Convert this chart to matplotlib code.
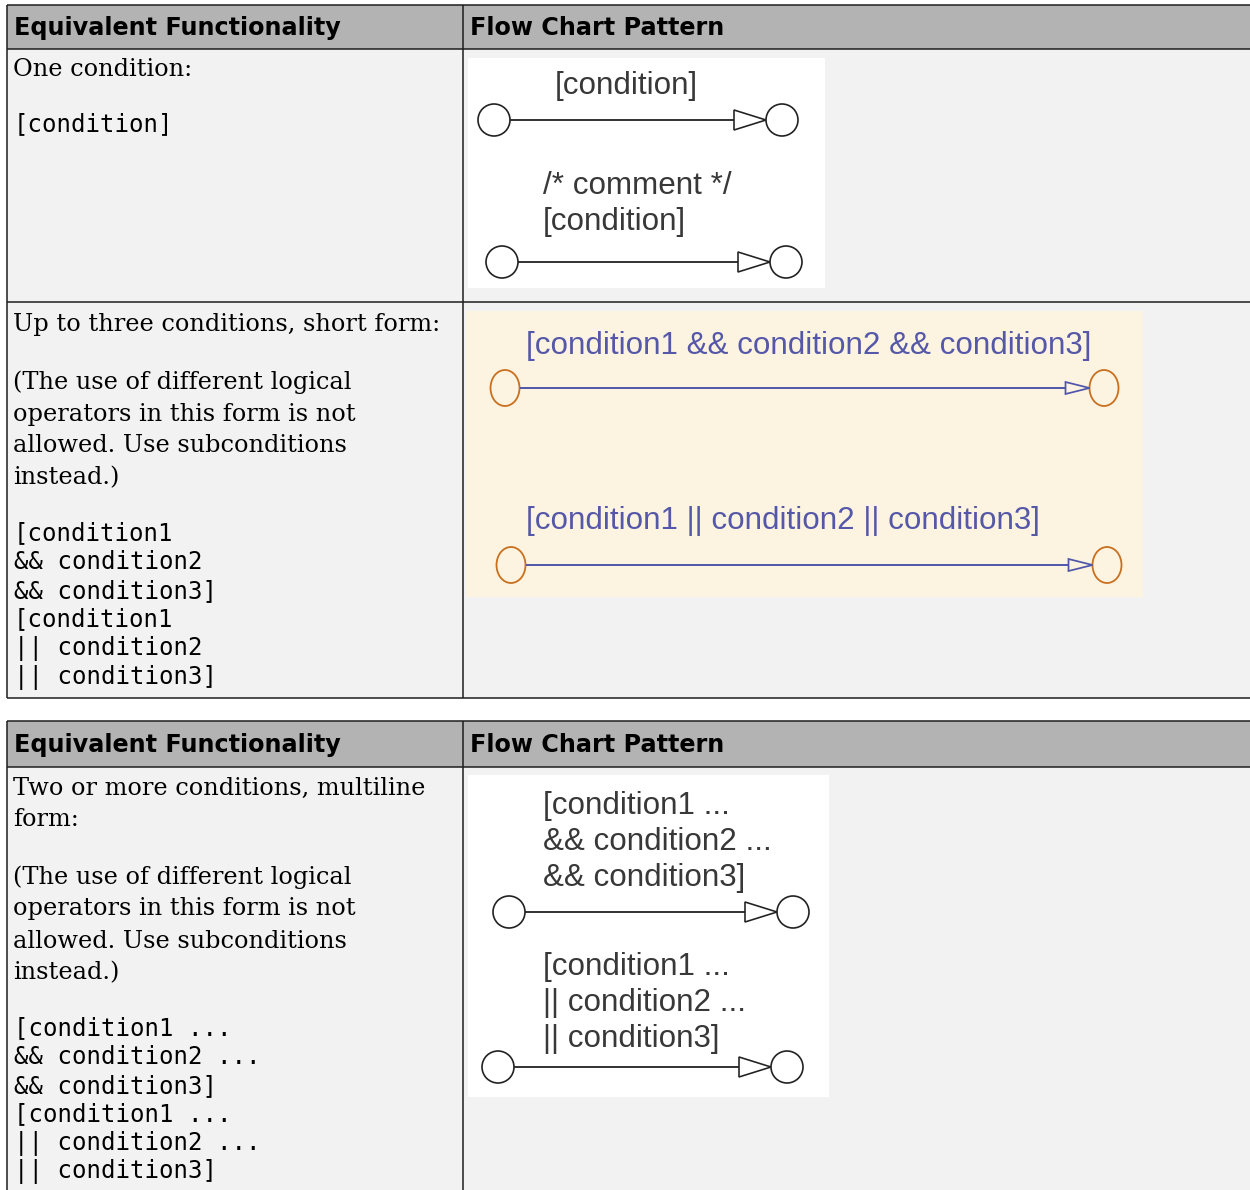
import matplotlib
matplotlib.use("Agg")
import matplotlib.pyplot as plt
from matplotlib.patches import Rectangle, Ellipse, Polygon

# ---------------- content ----------------
headers = ["Equivalent Functionality", "Flow Chart Pattern"]

row1_desc = ["One condition:"]
row1_code = ["[condition]"]

row2_desc = ["Up to three conditions, short form:"]
row2_note = ["(The use of different logical", "operators in this form is not",
             "allowed. Use subconditions", "instead.)"]
row2_code = ["[condition1", "&& condition2", "&& condition3]",
             "[condition1", "|| condition2", "|| condition3]"]

row3_desc = ["Two or more conditions, multiline", "form:"]
row3_note = row2_note
row3_code = ["[condition1 ...", "&& condition2 ...", "&& condition3]",
             "[condition1 ...", "|| condition2 ...", "|| condition3]"]

fc1_labels = [["[condition]"], ["/* comment */", "[condition]"]]
fc2_labels = ["[condition1 && condition2 && condition3]",
              "[condition1 || condition2 || condition3]"]
fc3_labels = [["[condition1 ...", "&& condition2 ...", "&& condition3]"],
              ["[condition1 ...", "|| condition2 ...", "|| condition3]"]]

# ---------------- styles ----------------
HEAD_BG = "#b3b3b3"
CELL_BG = "#f2f2f2"
BORDER = "#1e1e1e"
CREAM = "#fdf3e1"
ORANGE = "#c8701f"
BLUE = "#4f56aa"
BLUE_TXT = "#5558a8"
GRAY = "#383838"

W, H = 1250, 1190
fig = plt.figure(figsize=(W / 100, H / 100), dpi=100)
ax = fig.add_axes([0, 0, 1, 1])
ax.set_xlim(0, W)
ax.set_ylim(H, 0)
ax.axis("off")
fig.patch.set_facecolor("white")

LW = 1.1
BODY_FS = 17.3
FC_FS = 22.6
FC_FONT = "Liberation Sans"

def hline(x0, x1, y):
    ax.plot([x0, x1], [y, y], color=BORDER, lw=LW, solid_capstyle="butt")

def vline(x, y0, y1):
    ax.plot([x, x], [y0, y1], color=BORDER, lw=LW, solid_capstyle="butt")

def table(top, head_bot, bottom, draw_bottom):
    ax.add_patch(Rectangle((7, top), W - 7, head_bot - top, facecolor=HEAD_BG, edgecolor="none"))
    ax.add_patch(Rectangle((7, head_bot), W - 7, bottom - head_bot, facecolor=CELL_BG, edgecolor="none"))
    hline(7, W, top)
    hline(7, W, head_bot)
    if draw_bottom:
        hline(7, W, bottom)
    vline(7, top, bottom)
    vline(463, top, bottom)
    hy = (top + head_bot) / 2 + 1
    ax.text(14, hy, headers[0], fontsize=17.2, fontweight="bold", family="DejaVu Sans",
            va="center", ha="left", color="black")
    ax.text(470, hy, headers[1], fontsize=17.2, fontweight="bold", family="DejaVu Sans",
            va="center", ha="left", color="black")

def serif(x, y, s):
    ax.text(x, y, s, fontsize=BODY_FS, family="DejaVu Serif", va="center", ha="left", color="black")

def mono(x, y, s):
    ax.text(x, y, s, fontsize=BODY_FS, family="DejaVu Sans Mono", va="center", ha="left", color="black")

def fctext(x, y, s, color=GRAY, ha="left"):
    ax.text(x, y, s, fontsize=FC_FS, family=FC_FONT, color=color, ha=ha, va="center")

def transition(y, xl, xr, r, arrow_len, arrow_h, line_col, circ_col, circ_lw, bg, ry=None, line_lw=1.3):
    ry = r if ry is None else ry
    ax.add_patch(Ellipse((xl, y), 2 * r, 2 * ry, facecolor="none", edgecolor=circ_col, lw=circ_lw))
    ax.add_patch(Ellipse((xr, y), 2 * r, 2 * ry, facecolor="none", edgecolor=circ_col, lw=circ_lw))
    tip = xr - r
    base = tip - arrow_len
    ax.plot([xl + r, base], [y, y], color=line_col, lw=line_lw, solid_capstyle="butt")
    ax.add_patch(Polygon([[base, y - arrow_h], [base, y + arrow_h], [tip, y]], closed=True,
                         facecolor=bg, edgecolor=line_col, lw=line_lw * 0.9))

# ---------------- table 1 ----------------
table(5, 49, 698, True)
hline(7, W, 302)

serif(13, 70, row1_desc[0])
mono(14, 124, row1_code[0])

serif(13, 324, row2_desc[0])
for i, s in enumerate(row2_note):
    serif(13, 382 + 32 * i, s)
for i, s in enumerate(row2_code):
    mono(14, 533 + 28.8 * i, s)

# flow chart 1
ax.add_patch(Rectangle((468, 58), 357, 230, facecolor="white", edgecolor="none"))
fctext(626, 86, fc1_labels[0][0], ha="center")
transition(120, 494, 782, 16, 32, 10, "#222222", "#222222", 1.2, "white")
fctext(543, 186, fc1_labels[1][0])
fctext(543, 222, fc1_labels[1][1])
transition(262, 502, 786, 16, 32, 10, "#222222", "#222222", 1.2, "white")

# flow chart 2
ax.add_patch(Rectangle((466, 311), 677, 286, facecolor=CREAM, edgecolor="none"))
fctext(809, 346, fc2_labels[0], color=BLUE_TXT, ha="center")
transition(388, 505, 1104, 14.5, 24, 6, BLUE, ORANGE, 1.3, CREAM, ry=18, line_lw=1.4)
fctext(783, 521, fc2_labels[1], color=BLUE_TXT, ha="center")
transition(565, 511, 1107, 14.5, 24, 6, BLUE, ORANGE, 1.3, CREAM, ry=18, line_lw=1.4)

# ---------------- table 2 ----------------
table(721, 767, H + 5, False)

for i, s in enumerate(row3_desc):
    serif(13, 788 + 32 * i, s)
for i, s in enumerate(row3_note):
    serif(13, 877 + 32 * i, s)
for i, s in enumerate(row3_code):
    mono(14, 1028 + 28.8 * i, s)

# flow chart 3
ax.add_patch(Rectangle((468, 775), 361, 322, facecolor="white", edgecolor="none"))
for i, s in enumerate(fc3_labels[0]):
    fctext(543, 806 + 36 * i, s)
transition(912, 509, 793, 16, 32, 10, "#222222", "#222222", 1.2, "white")
for i, s in enumerate(fc3_labels[1]):
    fctext(543, 967 + 36 * i, s)
transition(1067, 498, 787, 16, 32, 10, "#222222", "#222222", 1.2, "white")

fig.savefig("out.png", dpi=100, facecolor="white")
